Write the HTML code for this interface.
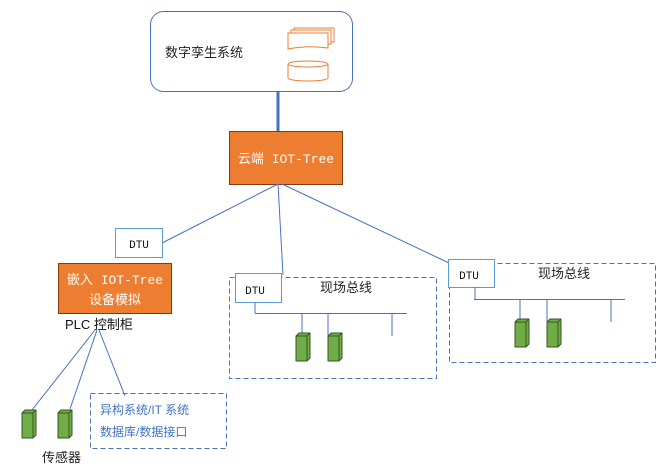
<!DOCTYPE html>
<html><head><meta charset="utf-8"><style>
html,body{margin:0;padding:0;background:#fff;}
svg{display:block;font-family:"Liberation Sans","Noto Sans CJK SC",sans-serif;}
.m{font-family:"Liberation Mono","Noto Sans CJK SC",monospace;}
</style></head><body>
<svg width="664" height="467" viewBox="0 0 664 467" xmlns="http://www.w3.org/2000/svg">
<defs>
<g id="s">
<path d="M0,3 L3,0 L14,0 L14,25 L11,28 L0,28 Z" fill="#70AD47" stroke="#375623" stroke-width="1"/>
<path d="M0,3 L11,3 L14,0 M11,3 L11,28" fill="none" stroke="#375623" stroke-width="1"/>
</g>
</defs>
<!-- top system -->
<rect x="150.5" y="11.5" width="202" height="80" rx="13" fill="#fff" stroke="#4472C4"/>
<text x="165" y="57" font-size="13" fill="#222">数字孪生系统</text>
<g fill="#fff" stroke="#ED7D31" stroke-width="1">
<path d="M294,28 h40 v14 h-40z"/>
<path d="M291,30 h40 v14 h-40z"/>
<path d="M288,33 h40 v15 q-20,-3 -40,1z"/>
<path d="M288,64 v14 a20,3 0 0 0 40,0 v-14"/>
<ellipse cx="308" cy="64" rx="20" ry="3"/>
</g>
<line x1="278" y1="91" x2="278" y2="131" stroke="#4472C4" stroke-width="3"/>
<rect x="229.5" y="131.5" width="113" height="53" fill="#ED7D31" stroke="#843C0C"/>
<text x="286" y="163" font-size="13" fill="#fff" text-anchor="middle" class="m">云端 IOT-Tree</text>
<g stroke="#4472C4" stroke-width="1" fill="none">
<line x1="278" y1="184" x2="162" y2="243"/>
<line x1="278" y1="184" x2="283" y2="275"/>
<line x1="282" y1="184" x2="449" y2="263"/>
<line x1="95" y1="330" x2="32" y2="410"/>
<line x1="97" y1="330" x2="70" y2="409"/>
<line x1="99" y1="330" x2="125" y2="396"/>
</g>
<!-- left -->
<rect x="115.5" y="228.5" width="47" height="29" fill="#fff" stroke="#5B9BD5"/>
<text x="139" y="248" font-size="11" text-anchor="middle" class="m" fill="#111">DTU</text>
<rect x="58.5" y="263.5" width="113" height="50" fill="#ED7D31" stroke="#843C0C"/>
<text x="115" y="284" font-size="13" fill="#fff" text-anchor="middle" class="m">嵌入 IOT-Tree</text>
<text x="115" y="304" font-size="13" fill="#fff" text-anchor="middle">设备模拟</text>
<text x="65" y="329" font-size="13" fill="#111">PLC 控制柜</text>
<use href="#s" x="22" y="410"/>
<use href="#s" x="58" y="410"/>
<text x="42" y="462" font-size="13" fill="#222">传感器</text>
<rect x="90.5" y="393.5" width="136" height="55" fill="none" stroke="#4472C4" stroke-dasharray="5,3"/>
<text x="100" y="414" font-size="12" fill="#4472C4">异构系统/IT 系统</text>
<text x="100" y="436" font-size="12" fill="#4472C4">数据库/数据接口</text>
<!-- middle -->
<rect x="229.5" y="277.5" width="207" height="101" fill="none" stroke="#4472C4" stroke-dasharray="5,3"/>
<rect x="235.5" y="273.5" width="46" height="29" fill="#fff" stroke="#5B9BD5"/>
<text x="255" y="294" font-size="11" text-anchor="middle" class="m" fill="#111">DTU</text>
<text x="320" y="292" font-size="13" fill="#222">现场总线</text>
<g stroke="#4472C4" fill="none">
<line x1="255" y1="303" x2="255" y2="313"/>
<line x1="255" y1="313.5" x2="407" y2="313.5"/>
<line x1="302" y1="313" x2="302" y2="336"/>
<line x1="328" y1="313" x2="328" y2="336"/>
<line x1="392" y1="313" x2="392" y2="336"/>
</g>
<use href="#s" x="296" y="333"/>
<use href="#s" x="328" y="333"/>
<!-- right -->
<rect x="449.5" y="263.5" width="206" height="99" fill="none" stroke="#4472C4" stroke-dasharray="5,3"/>
<rect x="448.5" y="259.5" width="46" height="28" fill="#fff" stroke="#5B9BD5"/>
<text x="469" y="279" font-size="11" text-anchor="middle" class="m" fill="#111">DTU</text>
<text x="538" y="278" font-size="13" fill="#222">现场总线</text>
<g stroke="#4472C4" fill="none">
<line x1="475" y1="287" x2="475" y2="299"/>
<line x1="474" y1="299.5" x2="625" y2="299.5"/>
<line x1="520" y1="299" x2="520" y2="322"/>
<line x1="547" y1="299" x2="547" y2="322"/>
<line x1="611" y1="299" x2="611" y2="322"/>
</g>
<use href="#s" x="515" y="319"/>
<use href="#s" x="547" y="319"/>
</svg>
</body></html>
